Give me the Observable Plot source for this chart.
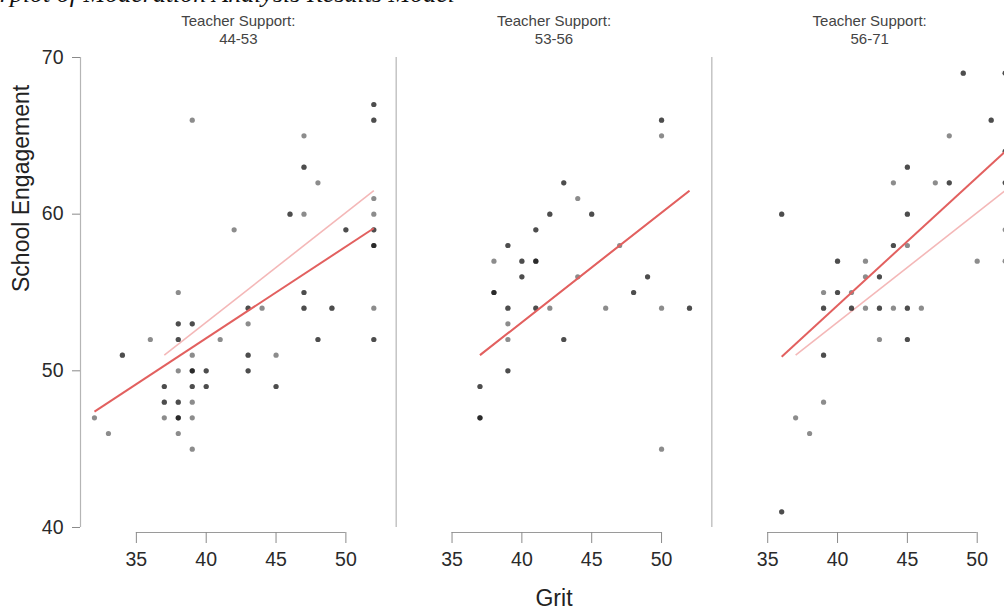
<!DOCTYPE html>
<html>
<head>
<meta charset="utf-8">
<script src="https://cdn.jsdelivr.net/npm/d3@7"></script>
<script src="https://cdn.jsdelivr.net/npm/@observablehq/plot@0.6"></script>
<style>
  html, body { margin: 0; padding: 0; background: white; overflow: hidden; }
  #wrap { position: relative; width: 1004px; height: 610px; overflow: hidden; background: white; }
  #wrap svg { position: absolute; left: 0; top: 0; }
  #cap { position: absolute; right: 549px; top: -20px; z-index: 2; white-space: nowrap;
         font: italic 26px "Liberation Serif", "DejaVu Serif", serif; line-height: 28px; color: #111; }
</style>
</head>
<body>
<div id="wrap"><div id="cap">Scatterplot of Moderation Analysis Results Model</div></div>
<script>
// ---- data ----
const groups = ["44-53", "53-56", "56-71"];
const facetTitle = "Teacher Support:";
const xLabel = "Grit";
const yLabel = "School Engagement";
const xTicks = [35, 40, 45, 50];
const yTicks = [40, 50, 60, 70];

// group 1: Teacher Support 44-53 (n = number of overlapping observations)
const grit1 = [39,52,52,47,47,48,46,47,52,52,52,52,42,50,38,47,43,44,47,49,52,38,39,43,36,38,41,48,52,34,39,43,45,38,39,40,43,37,39,40,45,37,38,39,32,37,38,39,33,38,39];
const eng1  = [66,67,66,65,63,62,60,60,61,60,59,58,59,59,55,55,54,54,54,54,54,53,53,53,52,52,52,52,52,51,51,51,51,50,50,50,50,49,49,49,49,48,48,48,47,47,47,47,46,46,45];
const n1    = [1, 2, 2, 1, 2, 1, 2, 1, 1, 1, 2, 3, 1, 2, 1, 2, 2, 1, 2, 2, 1, 2, 2, 1, 1, 2, 1, 2, 2, 2, 1, 2, 1, 1, 3, 2, 2, 2, 2, 2, 2, 2, 2, 1, 1, 1, 3, 1, 1, 1, 1];

// group 2: Teacher Support 53-56
const grit2 = [50,50,43,44,42,45,41,39,47,38,40,41,40,49,44,38,48,39,41,42,46,50,52,39,39,43,39,37,37,50];
const eng2  = [66,65,62,61,60,60,59,58,58,57,57,57,56,56,56,55,55,54,54,54,54,54,54,53,52,52,50,49,47,45];
const n2    = [2, 1, 2, 1, 2, 2, 2, 2, 1, 1, 2, 3, 2, 2, 1, 3, 2, 2, 2, 1, 1, 1, 2, 1, 1, 2, 2, 2, 3, 1];

// group 3: Teacher Support 56-71
const grit3 = [49,52,51,48,52,45,44,47,48,52,36,45,52,44,45,40,42,50,52,42,43,39,40,41,39,41,42,43,44,45,46,43,45,39,39,37,38,36];
const eng3  = [69,69,66,65,64,63,62,62,62,62,60,60,59,58,58,57,57,57,57,56,56,55,55,55,54,54,54,54,54,54,54,52,52,51,48,47,46,41];
const n3    = [2, 2, 2, 1, 2, 2, 1, 1, 2, 2, 2, 2, 1, 2, 1, 2, 1, 1, 1, 1, 2, 1, 2, 1, 2, 2, 1, 2, 1, 2, 1, 1, 2, 2, 1, 1, 1, 2];

// fitted simple slopes per group (start/end grit and predicted engagement)
const fitGritStart = [32, 37, 36];
const fitGritEnd   = [52, 52, 52];
const fitEngStart  = [47.4, 51.0, 50.9];
const fitEngEnd    = [59.1, 61.5, 64.0];
const refIndex = 1; // middle group's line shown as a light reference in every panel

// ---- build tables ----
const grits = [grit1, grit2, grit3], engs = [eng1, eng2, eng3], ns = [n1, n2, n3];
const points = [];
groups.forEach((g, i) => {
  grits[i].forEach((x, j) => {
    for (let k = 0; k < ns[i][j]; k++) points.push({group: g, grit: x, eng: engs[i][j]});
  });
});
const fits = groups.map((g, i) => ({group: g, x1: fitGritStart[i], x2: fitGritEnd[i], y1: fitEngStart[i], y2: fitEngEnd[i]}));
const ref = [{x1: fitGritStart[refIndex], x2: fitGritEnd[refIndex], y1: fitEngStart[refIndex], y2: fitEngEnd[refIndex]}];

const xDomain = [31, 53.6];
const yDomain = [39.68, 70];

const chart = Plot.plot({
  width: 1027,
  height: 610,
  marginLeft: 80,
  marginRight: 0,
  marginTop: 57,
  marginBottom: 78,
  style: {maxWidth: "none", background: "white", fontFamily: "'Liberation Sans', Arial, sans-serif", color: "#222", overflow: "visible"},
  fx: {domain: groups, padding: 0, round: false, axis: null, label: null},
  x: {domain: xDomain, axis: null},
  y: {domain: yDomain, axis: null},
  marks: [
    // y axis line (repeated in every panel) and x axis line
    Plot.ruleX([xDomain[0]], {y1: yTicks[0], y2: yTicks[yTicks.length - 1], stroke: "#b5b5b5", strokeWidth: 1.2}),
    Plot.ruleY([yDomain[0]], {x1: xTicks[0], x2: xTicks[xTicks.length - 1], stroke: "#9a9a9a", strokeWidth: 1}),
    Plot.axisX({ticks: xTicks, tickSize: 11, tickPadding: 8.5, fontSize: 19.5, label: null, stroke: "#8a8a8a", fill: "#2a2a2a"}),
    Plot.axisY({ticks: yTicks, tickSize: 8, tickPadding: 9, fontSize: 19.5, label: null, stroke: "#8a8a8a", fill: "#2a2a2a"}),
    // reference line (light pink) in every panel
    Plot.link(ref, {x1: "x1", y1: "y1", x2: "x2", y2: "y2", stroke: "#f4b8b8", strokeWidth: 1.6}),
    // points
    Plot.dot(points, {fx: "group", x: "grit", y: "eng", r: 2.6, fill: "black", fillOpacity: 0.45, stroke: "none"}),
    // group regression lines
    Plot.link(fits, {fx: "group", x1: "x1", y1: "y1", x2: "x2", y2: "y2", stroke: "#e2605f", strokeWidth: 2}),
    // facet titles
    Plot.text(groups, {fx: d => d, text: d => `${facetTitle}\n${d}`, frameAnchor: "top", dy: -28.5, lineAnchor: "middle", fontSize: 15, lineHeight: 1.2, fill: "#444"}),
    // axis titles
    Plot.text([yLabel], {fx: () => groups[0], text: d => d, frameAnchor: "left", rotate: -90, dx: -59, dy: -3, lineAnchor: "middle", fontSize: 23, fill: "#222"}),
    Plot.text([xLabel], {fx: () => groups[1], text: d => d, frameAnchor: "bottom", dy: 66, lineAnchor: "middle", fontSize: 23, fill: "#222"})
  ]
});
const wrap = document.getElementById("wrap");
wrap.insertBefore(chart, wrap.firstChild);
</script>
</body>
</html>
